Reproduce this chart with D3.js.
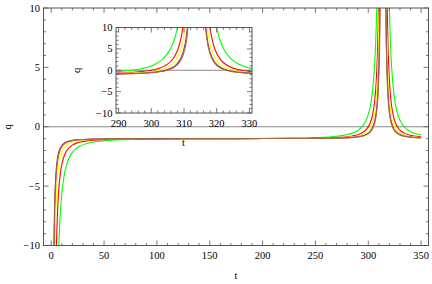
<!DOCTYPE html>
<html><head><meta charset="utf-8">
<script src="https://cdn.jsdelivr.net/npm/d3@7"></script>
<style>body{margin:0;background:#fff}svg{display:block}text{font-family:"Liberation Serif","DejaVu Serif",serif;fill:#000}</style>
</head><body><svg id="c" width="432" height="284"></svg>
<script>
const tValues=[1,2,3,4,5,6,7,8,9,10,12,14,16,18,20,24,28,34,40,50,65,80,100,130,160,190,220,250,270,285,290,294,298,300,302,304,306,307,308,309,310,311,312,313,315,316,317,318,319,320,321,322,324,326,328,330,334,340,345,350];
const qGreen=[-467,-117.5,-52.8,-30.1,-19.6,-13.9,-10.5,-8.28,-6.75,-5.66,-4.24,-3.38,-2.82,-2.44,-2.16,-1.80,-1.59,-1.40,-1.28,-1.18,-1.10,-1.066,-1.038,-1.016,-1.00,-0.987,-0.965,-0.911,-0.802,-0.535,-0.318,-0.015,0.542,1.015,1.745,2.955,5.18,7.08,10.0,14.84,23.75,43,98,395,395,98,43,23.75,14.84,10.0,7.08,5.19,2.96,1.75,1.02,0.543,-0.014,-0.418,-0.592,-0.698];
const qRed=[-221,-56,-25.4,-14.75,-9.8,-7.11,-5.49,-4.44,-3.72,-3.2,-2.53,-2.12,-1.86,-1.68,-1.55,-1.38,-1.28,-1.19,-1.135,-1.085,-1.049,-1.031,-1.018,-1.007,-1.001,-0.994,-0.983,-0.957,-0.905,-0.775,-0.669,-0.521,-0.246,-0.01,0.355,0.966,2.104,3.085,4.62,7.20,12.09,23.1,57.3,294,130,38.05,17.46,9.71,5.99,3.92,2.65,1.81,0.817,0.27,-0.063,-0.28,-0.537,-0.725,-0.806,-0.856];
const qYellow=[-116,-29.75,-13.78,-8.19,-5.6,-4.19,-3.35,-2.80,-2.42,-2.15,-1.80,-1.59,-1.45,-1.355,-1.286,-1.20,-1.145,-1.098,-1.070,-1.044,-1.025,-1.016,-1.009,-1.003,-0.999,-0.995,-0.988,-0.970,-0.935,-0.847,-0.775,-0.673,-0.485,-0.323,-0.072,0.35,1.142,1.829,2.909,4.749,8.277,16.42,42.94,258,74.1,23.0,10.66,5.869,3.521,2.2,1.383,0.844,0.197,-0.161,-0.379,-0.522,-0.692,-0.816,-0.87,-0.904];
const qPurple=[-59,-15.5,-7.44,-4.625,-3.32,-2.61,-2.18,-1.91,-1.72,-1.58,-1.40,-1.30,-1.23,-1.18,-1.144,-1.10,-1.073,-1.049,-1.035,-1.022,-1.012,-1.0075,-1.004,-1.001,-0.9985,-0.996,-0.991,-0.979,-0.955,-0.894,-0.844,-0.774,-0.646,-0.536,-0.366,-0.083,0.444,0.897,1.601,2.784,5.005,9.96,25.0,122.2,66.3,18.25,7.97,4.168,2.356,1.353,0.741,0.34,-0.136,-0.397,-0.5555,-0.659,-0.781,-0.870,-0.908,-0.932];
const qBrown=[-71,-18.5,-8.78,-5.375,-3.8,-2.944,-2.43,-2.09,-1.86,-1.70,-1.486,-1.357,-1.273,-1.216,-1.174,-1.12,-1.088,-1.06,-1.043,-1.027,-1.015,-1.009,-1.005,-1.002,-0.999,-0.997,-0.992,-0.981,-0.96,-0.905,-0.86,-0.798,-0.684,-0.586,-0.435,-0.184,0.282,0.68,1.298,2.332,4.26,8.51,21.16,97.8,65.1,17.14,7.325,3.759,2.076,1.15,0.587,0.219,-0.216,-0.454,-0.598,-0.691,-0.802,-0.883,-0.917,-0.939];
const seriesColors=["#00ff00","#ff0000","#ffff00","#8a2a8a","#a86a38"];
const seriesValues=[qGreen,qRed,qYellow,qPurple,qBrown];
const mainXTicks=[0,50,100,150,200,250,300,350];
const yTicks=[-10,-5,0,5,10];
const insetXTicks=[290,300,310,320,330];

const svg=d3.select("#c");
const frameColor="#555";

function panel(g,opt){
  const x=d3.scaleLinear().domain(opt.xd).range([opt.x0,opt.x1]);
  const y=d3.scaleLinear().domain([-10,10]).range([opt.y1,opt.y0]);
  const id=opt.id;
  g.append("rect").attr("x",opt.x0).attr("y",opt.y0).attr("width",opt.x1-opt.x0).attr("height",opt.y1-opt.y0).attr("fill","#fff");
  g.append("clipPath").attr("id",id).append("rect").attr("x",opt.x0).attr("y",opt.y0).attr("width",opt.x1-opt.x0).attr("height",opt.y1-opt.y0);
  g.append("line").attr("x1",opt.x0).attr("x2",opt.x1).attr("y1",y(0)).attr("y2",y(0)).attr("stroke","#888").attr("stroke-width",1);
  const line=d3.line().x((d,i)=>x(tValues[i])).y(d=>y(d)).curve(d3.curveMonotoneX);
  const lg=g.append("g").attr("clip-path",`url(#${id})`);
  seriesValues.forEach((vals,k)=>{
    lg.append("path").attr("d",line(vals)).attr("fill","none").attr("stroke",seriesColors[k]).attr("stroke-width",1.1);
  });
  const tg=g.append("g").attr("stroke",frameColor).attr("stroke-width",0.8);
  const [xmin,xmax]=opt.xd;
  const minorX=d3.range(Math.ceil(xmin/opt.xminor)*opt.xminor,xmax+1e-9,opt.xminor);
  minorX.forEach(v=>{
    const major=Math.abs(v/opt.xmajor-Math.round(v/opt.xmajor))<1e-6;
    const L=major?5:2.5;
    tg.append("line").attr("x1",x(v)).attr("x2",x(v)).attr("y1",opt.y1).attr("y2",opt.y1-L);
    tg.append("line").attr("x1",x(v)).attr("x2",x(v)).attr("y1",opt.y0).attr("y2",opt.y0+L);
  });
  d3.range(-10,10.001,1).forEach(v=>{
    const major=v%5===0;
    const L=major?5:2.5;
    tg.append("line").attr("x1",opt.x0).attr("x2",opt.x0+L).attr("y1",y(v)).attr("y2",y(v));
    tg.append("line").attr("x1",opt.x1).attr("x2",opt.x1-L).attr("y1",y(v)).attr("y2",y(v));
  });
  g.append("rect").attr("x",opt.x0).attr("y",opt.y0).attr("width",opt.x1-opt.x0).attr("height",opt.y1-opt.y0).attr("fill","none").attr("stroke",frameColor).attr("stroke-width",1);
  g.selectAll(null).data(opt.xticks).enter().append("text").attr("x",d=>x(d)).attr("y",opt.y1+13.5).attr("text-anchor","middle").attr("font-size",10.5).text(d=>d);
  g.selectAll(null).data(yTicks).enter().append("text").attr("x",opt.x0-3.5).attr("y",d=>y(d)+3.6).attr("text-anchor","end").attr("font-size",10.5).text(d=>d<0?"\u2212"+(-d):d);
  g.append("text").attr("x",opt.tx).attr("y",opt.ty).attr("text-anchor","middle").attr("font-size",10.5).text("t");
  g.append("text").attr("transform",`translate(${opt.qx},${y(0)}) rotate(-90)`).attr("text-anchor","middle").attr("dy","0.3em").attr("font-size",10.5).text("q");
}

panel(svg.append("g"),{id:"cm",xd:[-7.3,357],x0:43.5,x1:428.5,y0:8,y1:245.5,xminor:10,xmajor:50,xticks:mainXTicks,tx:236,ty:279,qx:8});
panel(svg.append("g"),{id:"ci",xd:[289.2,330.8],x0:116,x1:252,y0:27.5,y1:113,xminor:2,xmajor:10,xticks:insetXTicks,tx:183.5,ty:146,qx:77});
</script></body></html>
